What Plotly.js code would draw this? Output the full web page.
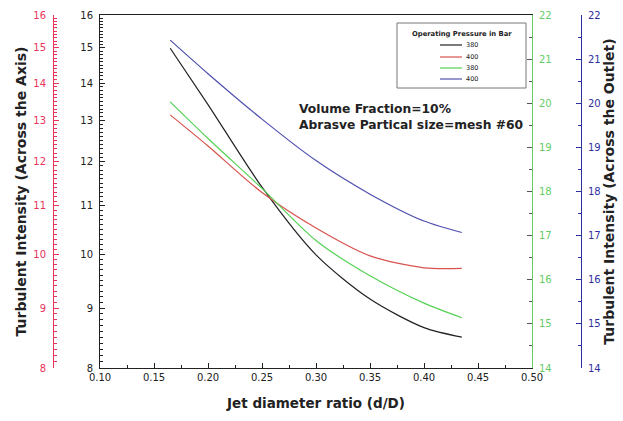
<!DOCTYPE html>
<html>
<head>
<meta charset="utf-8">
<script src="https://cdn.plot.ly/plotly-3.0.1.min.js"></script>
<style>html,body{margin:0;padding:0;background:#fff;}#chart{width:623px;height:421px;}</style>
</head>
<body>
<div id="chart"></div>
<script>
// Jet diameter ratio (d/D)
const xRatio = [0.165, 0.20, 0.25, 0.30, 0.35, 0.40, 0.435];
// Turbulent intensity across the axis (left axes, log scale)
const axis380 = [14.99, 13.42, 11.41, 9.99, 9.16, 8.66, 8.50];
const axis400 = [13.15, 12.37, 11.29, 10.53, 9.97, 9.74, 9.73];
// Turbulent intensity across the outlet (right axes)
const outlet380 = [20.03, 19.20, 18.07, 16.89, 16.09, 15.47, 15.14];
const outlet400 = [21.43, 20.67, 19.64, 18.70, 17.94, 17.33, 17.07];

const seriesNames = ['380', '400', '380', '400'];
const legendTitle = 'Operating Pressure in Bar';
const leftTicks = [8, 9, 10, 11, 12, 13, 14, 15, 16];
const rightTicks = [14, 15, 16, 17, 18, 19, 20, 21, 22];
const xTicks = [0.10, 0.15, 0.20, 0.25, 0.30, 0.35, 0.40, 0.45, 0.50];

const W = 623, H = 421, L = 100, R = 532, T = 15, B = 368;
const px = v => v / W;
const py = v => (B - v) / (B - T);

const logMinor = [];
for (let i = 81; i < 160; i++) { if (i % 10 !== 0) logMinor.push(i / 10); }

const black = '#222222', red = '#d9534f', green = '#55d155', blue = '#4f4fb0';
const redAx = '#e8335a', greenAx = '#66cc66', blueAx = '#2f2fa0';
const colors = [black, red, green, blue];
const F = 'DejaVu Sans, Verdana, sans-serif';

const lineStyle = c => ({color: c, width: 1.2, shape: 'spline', smoothing: 0.8});
const traces = [
  {x: xRatio, y: axis380, name: seriesNames[0], yaxis: 'y', mode: 'lines', line: lineStyle(black)},
  {x: xRatio, y: axis400, name: seriesNames[1], yaxis: 'y2', mode: 'lines', line: lineStyle(red)},
  {x: xRatio, y: outlet380, name: seriesNames[2], yaxis: 'y3', mode: 'lines', line: lineStyle(green)},
  {x: xRatio, y: outlet400, name: seriesNames[3], yaxis: 'y4', mode: 'lines', line: lineStyle(blue)},
  // empty carriers so the minor-tick overlay axes get drawn
  {x: [], y: [], yaxis: 'y5', mode: 'lines', hoverinfo: 'skip', showlegend: false},
  {x: [], y: [], yaxis: 'y6', mode: 'lines', hoverinfo: 'skip', showlegend: false}
];

const logRange = [Math.log10(8), Math.log10(16)];
const logAxisBase = {
  type: 'log', range: logRange, tickmode: 'array', tickvals: leftTicks, ticktext: leftTicks.map(String),
  ticks: 'inside', ticklen: 5, showline: true, linewidth: 1, showgrid: false, zeroline: false
};
const logMinorBase = {
  type: 'log', range: logRange, tickmode: 'array', tickvals: logMinor, showticklabels: false,
  ticks: 'inside', ticklen: 3, showline: false, showgrid: false, zeroline: false, overlaying: 'y'
};
const linAxisBase = {
  range: [14, 22], tickmode: 'array', tickvals: rightTicks, ticks: 'inside', ticklen: 5,
  showline: true, linewidth: 1, showgrid: false, zeroline: false, ticklabelstandoff: 4,
  minor: {dtick: 0.5, ticks: 'inside', ticklen: 3}
};

// custom compact legend
const legX0 = 397, legX1 = 526, legY0 = 23, legY1 = 88;
const entryY = [45, 57, 68, 79];
const shapes = [
  {type: 'rect', xref: 'paper', yref: 'paper', x0: px(legX0), x1: px(legX1), y0: py(legY0), y1: py(legY1),
   line: {color: '#777', width: 1}, fillcolor: '#fff', layer: 'above'}
];
const annotations = [
  {xref: 'paper', yref: 'paper', x: px((legX0 + legX1) / 2), y: py(34), xanchor: 'center', yanchor: 'middle',
   showarrow: false, text: '<b>' + legendTitle + '</b>', font: {size: 6.8, color: black, family: F}}
];
seriesNames.forEach((n, i) => {
  shapes.push({type: 'line', xref: 'paper', yref: 'paper', x0: px(440), x1: px(462), y0: py(entryY[i]), y1: py(entryY[i]),
    line: {color: colors[i], width: 1.2}, layer: 'above'});
  annotations.push({xref: 'paper', yref: 'paper', x: px(464), y: py(entryY[i]), xanchor: 'left', yanchor: 'middle',
    showarrow: false, text: n, font: {size: 6.5, color: black, family: F}});
});
annotations.push(
  {xref: 'paper', yref: 'paper', x: px(297), y: py(109), xanchor: 'left', yanchor: 'middle', showarrow: false,
   text: '<b>Volume Fraction=10%</b>', font: {size: 12.3, color: black, family: F}},
  {xref: 'paper', yref: 'paper', x: px(297), y: py(125), xanchor: 'left', yanchor: 'middle', showarrow: false,
   text: '<b>Abrasve Partical size=mesh #60</b>', font: {size: 12.3, color: black, family: F}}
);

const layout = {
  width: W, height: H,
  margin: {l: 0, r: 0, t: T, b: H - B},
  paper_bgcolor: '#fff', plot_bgcolor: '#fff',
  font: {family: F, size: 10, color: black},
  showlegend: false,
  xaxis: {
    domain: [px(L), px(R)], range: [0.1, 0.5], tickmode: 'array', tickvals: xTicks,
    tickformat: '.2f', ticks: 'inside', ticklen: 5, tickcolor: black,
    showline: true, linecolor: black, linewidth: 1, mirror: true, showgrid: false, zeroline: false,
    minor: {dtick: 0.025, tick0: 0.1, ticks: 'inside', ticklen: 3, tickcolor: black},
    tickfont: {size: 10, color: black},
    title: {text: '<b>Jet diameter ratio (d/D)</b>', font: {size: 13.5, color: black}, standoff: 16}
  },
  yaxis: Object.assign({}, logAxisBase, {
    anchor: 'x', side: 'left', linecolor: black, tickcolor: black,
    tickfont: {size: 10, color: black}, ticklabelstandoff: 4
  }),
  yaxis2: Object.assign({}, logAxisBase, {
    overlaying: 'y', anchor: 'free', position: px(53), side: 'left',
    linecolor: redAx, tickcolor: redAx, tickfont: {size: 10, color: redAx}, ticklabelstandoff: 5,
    title: {text: '<b>Turbulent Intensity (Across the Axis)</b>', font: {size: 14, color: black}, standoff: 2}
  }),
  yaxis3: Object.assign({}, linAxisBase, {
    overlaying: 'y', anchor: 'x', side: 'right',
    linecolor: greenAx, tickcolor: '#555', tickfont: {size: 10, color: greenAx},
    minor: Object.assign({}, linAxisBase.minor, {tickcolor: '#555'})
  }),
  yaxis4: Object.assign({}, linAxisBase, {
    overlaying: 'y', anchor: 'free', position: px(581), side: 'right',
    linecolor: blueAx, tickcolor: blueAx, tickfont: {size: 10, color: blueAx},
    minor: Object.assign({}, linAxisBase.minor, {tickcolor: blueAx}),
    title: {text: '<b>Turbulent Intensity (Across the Outlet)</b>', font: {size: 14, color: black}, standoff: 4}
  }),
  yaxis5: Object.assign({}, logMinorBase, {anchor: 'x', side: 'left', tickcolor: black}),
  yaxis6: Object.assign({}, logMinorBase, {anchor: 'free', position: px(53), side: 'left', tickcolor: redAx}),
  shapes: shapes,
  annotations: annotations
};

Plotly.newPlot('chart', traces, layout, {staticPlot: true, displayModeBar: false});
</script>
</body>
</html>
